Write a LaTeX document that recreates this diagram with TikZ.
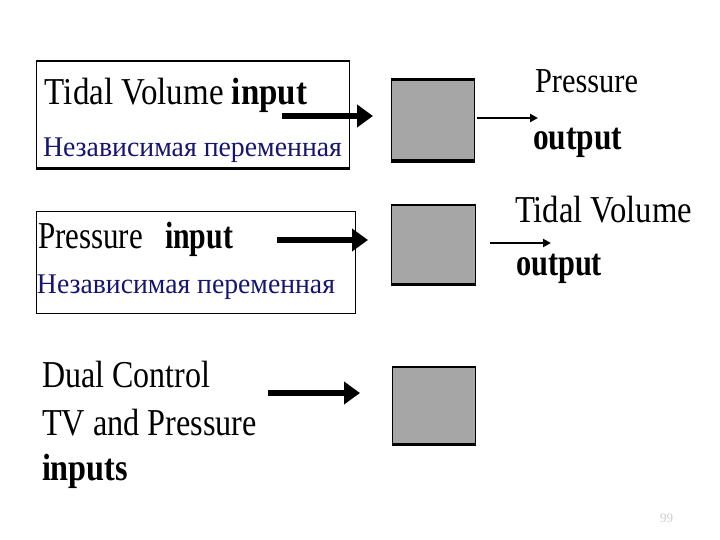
\documentclass[tikz,border=0pt]{standalone}
\usepackage{fontspec}
\setmainfont{Liberation Serif}
\newfontfamily\tms{Liberation Serif}
\usetikzlibrary{arrows.meta}
\definecolor{boxgray}{RGB}{166,166,166}
\definecolor{ru}{RGB}{22,22,112}
\definecolor{pnum}{RGB}{205,205,205}
\newcommand\fitw[2]{\resizebox{#1}{\height}{#2}}
\begin{document}
\begin{tikzpicture}[x=1pt,y=-1pt,
  txt/.style={anchor=base west, inner sep=0pt, outer sep=0pt},
  big/.style={font=\tms\fontsize{38}{40}\selectfont},
  mid/.style={font=\tms\fontsize{35}{37}\selectfont},
  rus/.style={font=\tms\fontsize{28.5}{30}\selectfont, text=ru},
  framebox/.style={draw, line width=1pt, inner sep=0pt, anchor=north west},
  gbox/.style={draw, fill=boxgray, line width=1pt, inner sep=0pt, anchor=north west},
  inarrow/.style={line width=6pt, -{Triangle[length=16pt,width=22pt]}},
  outarrow/.style={line width=2pt, -{Triangle[length=8pt,width=8pt]}}]
\useasboundingbox (0,0) rectangle (720,540);
\fill[white] (0,0) rectangle (720,540);

% ---- row 1 ----
\node[framebox, minimum width=313pt, minimum height=107pt] (box1) at (36,61) {};
\draw[line width=2pt] (box1.north west) -- (box1.north east);
\draw[line width=3pt] (box1.south west) -- (box1.south east);
\node[txt, big] (t1) at (45,105) {\fitw{262pt}{Tidal Volume \textbf{input}}};
\node[txt, rus] (r1) at (43,157) {\fitw{299pt}{Независимая переменная}};

\node[gbox, minimum width=83pt, minimum height=80pt] (g1) at (391,80) {};
\draw[line width=3pt] (g1.north west) -- (g1.north east);
\draw[line width=4pt] (g1.south west) -- (g1.south east);

\coordinate (i1s) at (282,116);
\coordinate (i1e) at (373,116);
\draw[inarrow] (i1s) -- (i1e);
\coordinate (o1s) at (477,118);
\coordinate (o1e) at (538,118);
\draw[outarrow] (o1s) -- (o1e);

\node[txt, mid] (p1) at (535,93) {\fitw{103pt}{Pressure}};
\node[txt, big] (u1) at (533,150) {\fitw{89pt}{\textbf{output}}};

% ---- row 2 ----
\node[framebox, minimum width=319pt, minimum height=102pt] (box2) at (36,211) {};
\node[txt, big] (t2a) at (38,248) {\fitw{105pt}{Pressure}};
\node[txt, big] (t2b) at (165,248) {\fitw{68pt}{\textbf{input}}};
\node[txt, rus] (r2) at (37,293) {\fitw{298pt}{Независимая переменная}};

\node[gbox, minimum width=84pt, minimum height=78pt] (g2) at (391,205) {};
\draw[line width=2pt] (g2.north west) -- (g2.north east);
\draw[line width=3pt] (g2.south west) -- (g2.south east);

\coordinate (i2s) at (277,240);
\coordinate (i2e) at (368,240);
\draw[inarrow] (i2s) -- (i2e);
\coordinate (o2s) at (490,243);
\coordinate (o2e) at (551,243);
\draw[outarrow] (o2s) -- (o2e);

\node[txt, big] (p2) at (515,223) {\fitw{177pt}{Tidal Volume}};
\node[txt, big] (u2) at (516,275) {\fitw{86pt}{\textbf{output}}};

% ---- row 3 ----
\node[txt, big] (d1) at (42,387) {\fitw{168pt}{Dual Control}};
\node[txt, big] (d2) at (42,435) {\fitw{215pt}{TV and Pressure}};
\node[txt, big] (d3) at (42,480) {\fitw{86pt}{\textbf{inputs}}};

\node[gbox, minimum width=83pt, minimum height=76pt] (g3) at (392,367) {};
\draw[line width=2.5pt] (g3.north west) -- (g3.north east);
\draw[line width=3pt] (g3.south west) -- (g3.south east);

\coordinate (i3s) at (268,393);
\coordinate (i3e) at (360,393);
\draw[inarrow] (i3s) -- (i3e);

% ---- page number ----
\node[txt, font=\tms\fontsize{13}{14}\selectfont, text=pnum] (pg) at (660,522) {99};
\end{tikzpicture}
\end{document}
